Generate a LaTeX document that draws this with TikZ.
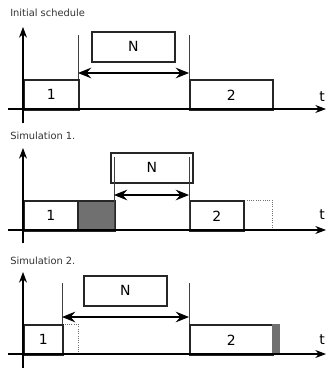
\documentclass[tikz,border=0pt]{standalone}
\usepackage{fontspec}
\setmainfont{DejaVu Sans}
\usetikzlibrary{arrows.meta}
\definecolor{shade}{HTML}{707070}
\begin{document}
\begin{tikzpicture}[x=0.75pt,y=-0.75pt,
  title/.style={anchor=west,inner sep=0pt,font=\fontsize{7.4pt}{8pt}\selectfont,text=black!80},
  job/.style={draw=black!85,line width=1.3pt,fill=white,inner sep=0pt,font=\fontsize{10.5pt}{12pt}\selectfont},
  delay/.style={draw=black!85,line width=1.3pt,fill=shade,inner sep=0pt},
  ghost/.style={draw=black!55,densely dotted,line width=0.7pt,inner sep=0pt},
  axis/.style={line width=0.8pt,-{Stealth[length=8pt,width=6pt]}},
  bound/.style={line width=0.6pt,black!75},
  span/.style={line width=0.8pt,{Stealth[length=10pt,width=8pt,inset=3.5pt]}-{Stealth[length=10pt,width=8pt,inset=3.5pt]}},
  tlabel/.style={inner sep=0pt,font=\fontsize{10.5pt}{12pt}\selectfont}]
\useasboundingbox (0,0) rectangle (327,371);
\fill[white] (0,0) rectangle (327,371);

% ---------- Panel 1: Initial schedule ----------
\node[title] (t1) at (10,13) {Initial schedule};
\coordinate (y1a) at (23,123); \coordinate (y1b) at (23,27);
\coordinate (x1a) at (8,109);  \coordinate (x1b) at (326,109);
\draw[bound] (78,35) coordinate (v1a) -- (78,109) coordinate (v1b);
\draw[bound] (189,35) coordinate (v1c) -- (189,109) coordinate (v1d);
\node[job,minimum width=55*0.75pt,minimum height=30*0.75pt,anchor=north west] (a1) at (23,79) {1};
\node[job,minimum width=83*0.75pt,minimum height=30*0.75pt,anchor=north west] (n1) at (91,31) {N};
\node[job,minimum width=83*0.75pt,minimum height=30*0.75pt,anchor=north west] (b1) at (189,79) {2};
\draw[axis] (y1a) -- (y1b);
\draw[axis] (x1a) -- (x1b);
\coordinate (s1a) at (78,73); \coordinate (s1b) at (189,73);
\draw[span] (s1a) -- (s1b);
\node[tlabel] (tt1) at (322,97) {t};

% ---------- Panel 2: Simulation 1 ----------
\node[title] (t2) at (10,136) {Simulation 1.};
\coordinate (y2a) at (23,243); \coordinate (y2b) at (23,148);
\coordinate (x2a) at (8,230);  \coordinate (x2b) at (326,230);
\node[job,minimum width=54*0.75pt,minimum height=30*0.75pt,anchor=north west] (a2) at (23,200) {1};
\node[delay,minimum width=37*0.75pt,minimum height=30*0.75pt,anchor=north west] (d2) at (77,200) {};
\node[ghost,minimum width=29*0.75pt,minimum height=30*0.75pt,anchor=north west] (g2) at (243,200) {};
\node[job,minimum width=82*0.75pt,minimum height=30*0.75pt,anchor=north west] (n2) at (110,152) {N};
\node[job,minimum width=54*0.75pt,minimum height=30*0.75pt,anchor=north west] (b2) at (189,200) {2};
\draw[bound] (114,157) coordinate (v2a) -- (114,230) coordinate (v2b);
\draw[bound] (189,157) coordinate (v2c) -- (189,230) coordinate (v2d);
\draw[axis] (y2a) -- (y2b);
\draw[axis] (x2a) -- (x2b);
\coordinate (s2a) at (114,195); \coordinate (s2b) at (189,195);
\draw[span] (s2a) -- (s2b);
\node[tlabel] (tt2) at (322,215) {t};

% ---------- Panel 3: Simulation 2 ----------
\node[title] (t3) at (10,261) {Simulation 2.};
\coordinate (y3a) at (23,368); \coordinate (y3b) at (23,272);
\coordinate (x3a) at (8,354);  \coordinate (x3b) at (326,354);
\node[ghost,minimum width=16*0.75pt,minimum height=30*0.75pt,anchor=north west] (g3) at (62,324) {};
\draw[bound] (62,283) coordinate (v3a) -- (62,354) coordinate (v3b);
\draw[bound] (189,283) coordinate (v3c) -- (189,354) coordinate (v3d);
\node[job,minimum width=39*0.75pt,minimum height=30*0.75pt,anchor=north west] (a3) at (23,324) {1};
\node[job,minimum width=83*0.75pt,minimum height=30*0.75pt,anchor=north west] (n3) at (83,275) {N};
\node[job,minimum width=83*0.75pt,minimum height=30*0.75pt,anchor=north west] (b3) at (189,324) {2};
\node[inner sep=0pt,fill=shade,minimum width=8*0.75pt,minimum height=30*0.75pt,anchor=north west] (d3) at (272,324) {};
\draw[axis] (y3a) -- (y3b);
\draw[axis] (x3a) -- (x3b);
\coordinate (s3a) at (62,317); \coordinate (s3b) at (189,317);
\draw[span] (s3a) -- (s3b);
\node[tlabel] (tt3) at (322,340) {t};
\end{tikzpicture}
\end{document}
